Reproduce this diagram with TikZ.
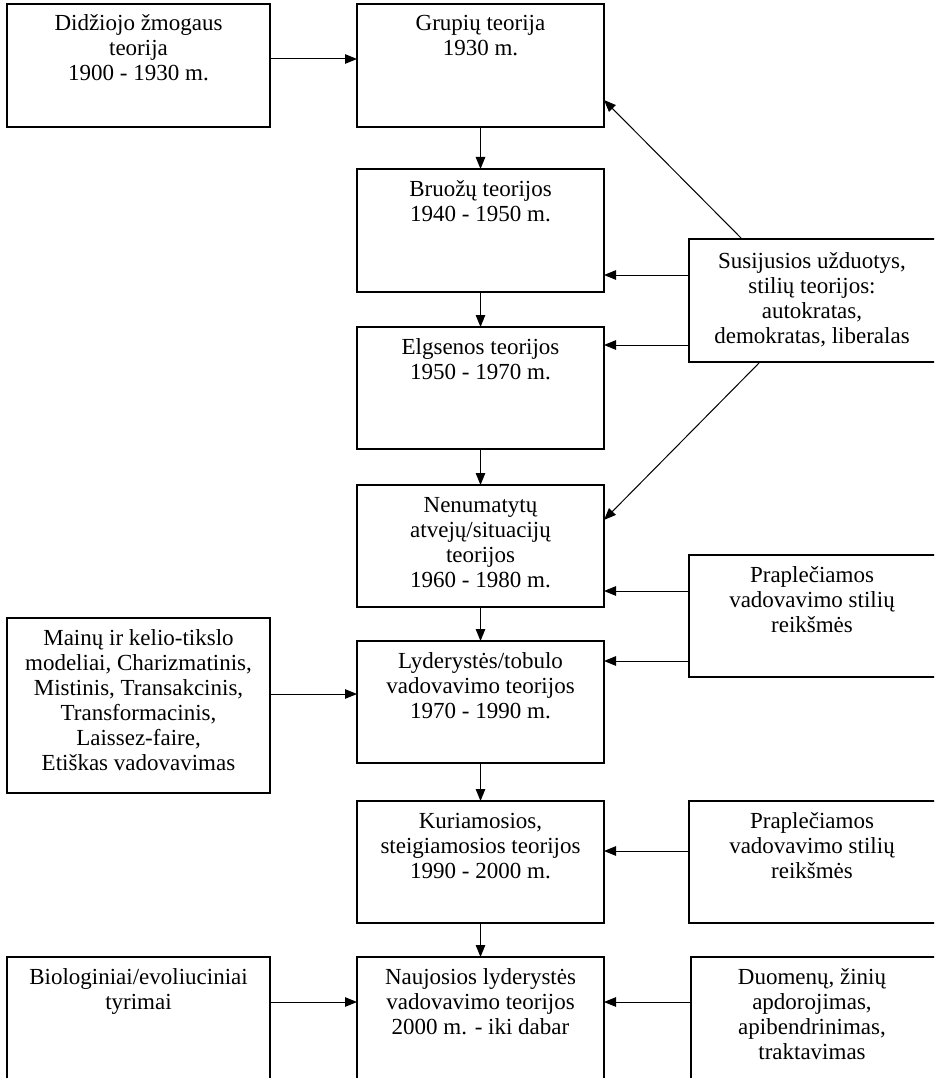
\documentclass[tikz,border=0pt]{standalone}
\usepackage{fontspec}
\setmainfont{Liberation Serif}
\usetikzlibrary{arrows.meta}
\begin{document}
\begin{tikzpicture}[x=1pt,y=-1pt,
  box/.style={draw, line width=1.2pt, anchor=north west, inner sep=0pt, outer sep=0pt},
  txt/.style={anchor=north, inner sep=0pt, align=center, font=\fontsize{23}{25}\selectfont},
  arr/.style={line width=1pt, -{Triangle[length=12pt,width=9.5pt]}}]
\clip (0,0) rectangle (934,1078);
% left column
\node[box, minimum width=263pt, minimum height=123pt] (b1) at (7,4) {};
\node[box, minimum width=263pt, minimum height=175pt] (mainu) at (7,618) {};
\node[box, minimum width=263pt, minimum height=150pt] (bio) at (7,957) {};
% centre column
\node[box, minimum width=247pt, minimum height=123pt] (grupiu) at (357,4) {};
\node[box, minimum width=247pt, minimum height=123pt] (bruozu) at (357,169) {};
\node[box, minimum width=247pt, minimum height=122pt] (elgs) at (357,327) {};
\node[box, minimum width=247pt, minimum height=122pt] (nenum) at (357,485) {};
\node[box, minimum width=247pt, minimum height=122pt] (lyd) at (357,641) {};
\node[box, minimum width=247pt, minimum height=122pt] (kur) at (357,801) {};
\node[box, minimum width=247pt, minimum height=150pt] (nauj) at (357,957) {};
% right column
\node[box, minimum width=260pt, minimum height=123pt] (sus) at (689,239) {};
\node[box, minimum width=260pt, minimum height=122pt] (prap1) at (689,555) {};
\node[box, minimum width=260pt, minimum height=122pt] (prap2) at (689,801) {};
\node[box, minimum width=260pt, minimum height=150pt] (duom) at (691,957) {};
% texts
\node[txt] (tb1) at (138.5,13) {\strut Didžiojo žmogaus\\teorija\\1900 - 1930 m.};
\node[txt] (tmainu) at (138.5,628) {\strut Mainų ir kelio-tikslo\\modeliai, Charizmatinis,\\Mistinis, Transakcinis,\\Transformacinis,\\Laissez-faire,\\Etiškas vadovavimas};
\node[txt] (tbio) at (138.5,967) {\strut Biologiniai/evoliuciniai\\tyrimai};
\node[txt] (tgrupiu) at (480.5,13) {\strut Grupių teorija\\1930 m.};
\node[txt] (tbruozu) at (480.5,179) {\strut Bruožų teorijos\\1940 - 1950 m.};
\node[txt] (telgs) at (480.5,337) {\strut Elgsenos teorijos\\1950 - 1970 m.};
\node[txt] (tnenum) at (480.5,495) {\strut Nenumatytų\\atvejų/situacijų\\teorijos\\1960 - 1980 m.};
\node[txt] (tlyd) at (480.5,651) {\strut Lyderystės/tobulo\\vadovavimo teorijos\\1970 - 1990 m.};
\node[txt] (tkur) at (480.5,811) {\strut Kuriamosios,\\steigiamosios teorijos\\1990 - 2000 m.};
\node[txt] (tnauj) at (480.5,967) {\strut Naujosios lyderystės\\vadovavimo teorijos\\2000 m. - iki dabar};
\node[txt] (tsus) at (812,251) {\strut Susijusios užduotys,\\stilių teorijos:\\autokratas,\\demokratas, liberalas};
\node[txt] (tprap1) at (812,565) {\strut Praplečiamos\\vadovavimo stilių\\reikšmės};
\node[txt] (tprap2) at (812,811) {\strut Praplečiamos\\vadovavimo stilių\\reikšmės};
\node[txt] (tduom) at (812,967) {\strut Duomenų, žinių\\apdorojimas,\\apibendrinimas,\\traktavimas};
% connectors
\draw[arr] (b1.east |- 0,59) -- (grupiu.west |- 0,59);
\draw[arr] (grupiu.south) -- (bruozu.north);
\draw[arr] (bruozu.south) -- (elgs.north);
\draw[arr] (elgs.south) -- (nenum.north);
\draw[arr] (nenum.south) -- (lyd.north);
\draw[arr] (lyd.south) -- (kur.north);
\draw[arr] (kur.south) -- (nauj.north);
\draw[arr] (sus.west |- 0,275) -- (bruozu.east |- 0,275);
\draw[arr] (sus.west |- 0,345) -- (elgs.east |- 0,345);
\draw[arr] (sus.north -| 742,0) -- (grupiu.east |- 0,100);
\draw[arr] (sus.south -| 760,0) -- (nenum.east |- 0,520);
\draw[arr] (prap1.west |- 0,591) -- (nenum.east |- 0,591);
\draw[arr] (prap1.west |- 0,661) -- (lyd.east |- 0,661);
\draw[arr] (mainu.east |- 0,694) -- (lyd.west |- 0,694);
\draw[arr] (prap2.west |- 0,851) -- (kur.east |- 0,851);
\draw[arr] (duom.west |- 0,1002) -- (nauj.east |- 0,1002);
\draw[arr] (bio.east |- 0,1002) -- (nauj.west |- 0,1002);
\end{tikzpicture}
\end{document}
